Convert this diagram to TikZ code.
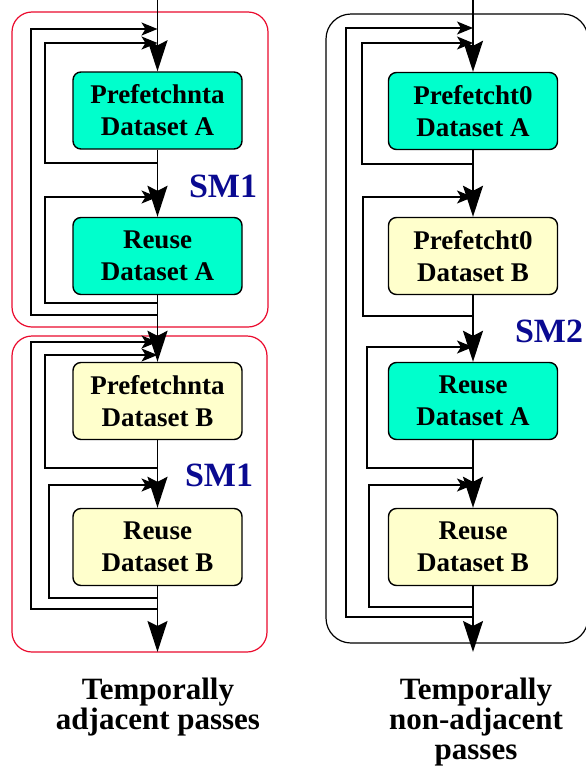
\documentclass[tikz,border=0pt]{standalone}
\usepackage{fontspec}
\setmainfont{Liberation Serif}
\usetikzlibrary{arrows.meta}
\definecolor{teal1}{RGB}{0,255,204}
\definecolor{yel1}{RGB}{255,255,204}
\definecolor{redbox}{RGB}{235,10,45}
\definecolor{smblue}{RGB}{10,10,145}
\tikzset{
  pbox/.style={draw, line width=1.4pt, rounded corners=8pt, minimum width=169pt, minimum height=77pt,
    align=center, inner sep=0pt, font=\bfseries\fontsize{27}{32}\selectfont},
  tealbox/.style={pbox, fill=teal1},
  yelbox/.style={pbox, fill=yel1},
  bigarr/.style={line width=1.6pt, -{Stealth[length=31pt,width=20pt,inset=5pt]}},
  smallarr/.style={line width=1.6pt, -{Stealth[length=16pt,width=13pt,inset=4pt]}},
  smlabel/.style={text=smblue, font=\bfseries\fontsize{34}{40}\selectfont, inner sep=0pt},
  caption/.style={align=center, anchor=north, inner sep=0pt, font=\bfseries\fontsize{31}{30}\selectfont},
}
\begin{document}
\begin{tikzpicture}[x=1pt, y=-1pt]
\clip (0,0) rectangle (586,766);
\fill[white] (0,0) rectangle (586,766);
% group frames
\draw[redbox, line width=1.2pt, rounded corners=20pt] (12,12) rectangle (268,327);
\draw[redbox, line width=1.2pt, rounded corners=20pt] (12,336) rectangle (267,652);
\draw[black, line width=1.2pt, rounded corners=25pt] (326,14) rectangle (588,643);

% left boxes
\node[tealbox] (pA) at (157.5,110.5) {Prefetchnta\\Dataset A};
\node[tealbox] (rA) at (157.5,256) {Reuse\\Dataset A};
\node[yelbox]  (pB) at (157.5,401) {Prefetchnta\\Dataset B};
\node[yelbox]  (rB) at (157.5,547) {Reuse\\Dataset B};
% right boxes
\node[tealbox] (qA) at (473,111) {Prefetcht0\\Dataset A};
\node[yelbox]  (qB) at (473,256) {Prefetcht0\\Dataset B};
\node[tealbox] (sA) at (473,401) {Reuse\\Dataset A};
\node[yelbox]  (sB) at (473,547) {Reuse\\Dataset B};

% left coordinates
\coordinate (Ltop) at (157.5,0);
\coordinate (Lend) at (157.5,652);
\coordinate (Lo1s) at (157.5,315); \coordinate (Lo1c) at (31,29);  \coordinate (Lo1e) at (157.5,29);
\coordinate (Li1s) at (157.5,163); \coordinate (Li1c) at (45,43);  \coordinate (Li1e) at (157.5,43);
\coordinate (Li2s) at (157.5,303); \coordinate (Li2c) at (45,197); \coordinate (Li2e) at (157.5,197);
\coordinate (Lo2s) at (157.5,609); \coordinate (Lo2c) at (31,342); \coordinate (Lo2e) at (157.5,342);
\coordinate (Li3s) at (157.5,468); \coordinate (Li3c) at (45,355); \coordinate (Li3e) at (157.5,355);
\coordinate (Li4s) at (157.5,598); \coordinate (Li4c) at (49,485); \coordinate (Li4e) at (157.5,485);

% right coordinates
\coordinate (Rtop) at (473,0);
\coordinate (Rend) at (473,652);
\coordinate (Ros) at (473,617); \coordinate (Roc) at (346,28);  \coordinate (Roe) at (473,28);
\coordinate (R1s) at (473,164); \coordinate (R1c) at (362,43);  \coordinate (R1e) at (473,43);
\coordinate (R2s) at (473,316); \coordinate (R2c) at (363,197); \coordinate (R2e) at (473,197);
\coordinate (R3s) at (473,468); \coordinate (R3c) at (367,347); \coordinate (R3e) at (473,347);
\coordinate (R4s) at (473,607); \coordinate (R4c) at (369,485); \coordinate (R4e) at (473,485);

% left loops
\draw[smallarr] (Lo1s) -| (Lo1c) -- (Lo1e);
\draw[smallarr] (Li1s) -| (Li1c) -- (Li1e);
\draw[smallarr] (Li2s) -| (Li2c) -- (Li2e);
\draw[smallarr] (Lo2s) -| (Lo2c) -- (Lo2e);
\draw[smallarr] (Li3s) -| (Li3c) -- (Li3e);
\draw[smallarr] (Li4s) -| (Li4c) -- (Li4e);
% left main flow
\draw[bigarr] (Ltop) -- (pA.north);
\draw[bigarr] (pA.south) -- (rA.north);
\draw[bigarr] (rA.south) -- (pB.north);
\draw[bigarr] (pB.south) -- (rB.north);
\draw[bigarr] (rB.south) -- (Lend);

% right loops
\draw[smallarr] (Ros) -| (Roc) -- (Roe);
\draw[smallarr] (R1s) -| (R1c) -- (R1e);
\draw[smallarr] (R2s) -| (R2c) -- (R2e);
\draw[smallarr] (R3s) -| (R3c) -- (R3e);
\draw[smallarr] (R4s) -| (R4c) -- (R4e);
% right main flow
\draw[bigarr] (Rtop) -- (qA.north);
\draw[bigarr] (qA.south) -- (qB.north);
\draw[bigarr] (qB.south) -- (sA.north);
\draw[bigarr] (sA.south) -- (sB.north);
\draw[bigarr] (sB.south) -- (Rend);

% labels
\node[smlabel] (sm1a) at (223,186) {SM1};
\node[smlabel] (sm1b) at (219,475) {SM1};
\node[smlabel] (sm2) at (549,331) {SM2};

\node[caption] (capL) at (158,678) {Temporally\\adjacent passes};
\node[caption] (capR) at (476,678) {Temporally\\non-adjacent\\passes};
\end{tikzpicture}
\end{document}
